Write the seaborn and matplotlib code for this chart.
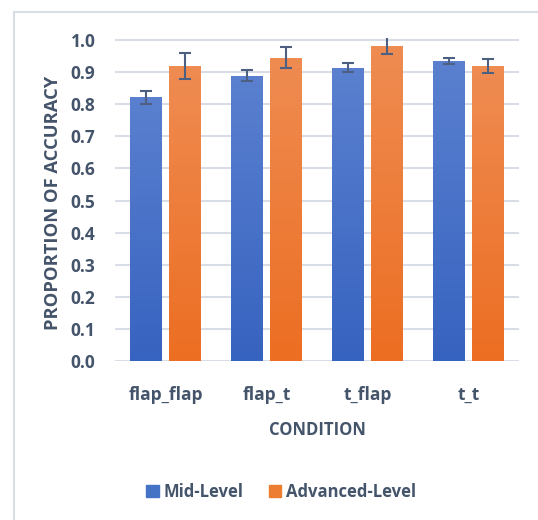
import numpy as np
import pandas as pd
import seaborn as sns
import matplotlib.pyplot as plt
from matplotlib.patches import Rectangle
from matplotlib.colors import LinearSegmentedColormap

conditions = ["flap_flap", "flap_t", "t_flap", "t_t"]
groups = ["Mid-Level", "Advanced-Level"]
mid_vals = [0.821, 0.889, 0.914, 0.934]
adv_vals = [0.919, 0.945, 0.982, 0.919]
mid_err = [0.020, 0.017, 0.014, 0.010]
adv_err = [0.042, 0.033, 0.025, 0.023]

df = pd.DataFrame({
    "condition": conditions * 2,
    "group": [groups[0]] * 4 + [groups[1]] * 4,
    "value": mid_vals + adv_vals,
    "err": mid_err + adv_err,
})

sns.set_style("white")
plt.rcParams["font.family"] = ["Open Sans", "DejaVu Sans"]
text_col = "#44546a"
grid_col = "#d9dee6"
base = {"Mid-Level": "#4472c4", "Advanced-Level": "#ed7d31"}
grads = {
    "Mid-Level": ("#3763c0", "#5a80cf"),
    "Advanced-Level": ("#ec6e22", "#ef8c52"),
}
ytop = 1.005

fig = plt.figure(figsize=(5.38, 5.20), dpi=100)
ax = fig.add_axes([115 / 538, 1 - 361 / 520, 404 / 538, (361 - 38.4) / 520])

sns.barplot(data=df, x="condition", y="value", hue="group", hue_order=groups,
            order=conditions, palette=base, width=0.78, gap=0.2,
            legend=False, ax=ax, zorder=2, linewidth=0)

ax.set_ylim(0, ytop)
ax.set_xlim(-0.5, 3.5)

# gradient fill + error bars
bars = sorted(ax.patches, key=lambda p: p.get_x())
for i, p in enumerate(bars):
    ci = i // 2
    g = groups[i % 2]
    cmap = LinearSegmentedColormap.from_list("g", grads[g])
    x0, w, h = p.get_x(), p.get_width(), p.get_height()
    grad = np.linspace(0, 1, 256).reshape(-1, 1)
    im = ax.imshow(grad, extent=[x0, x0 + w, 0, h], origin="lower", cmap=cmap,
                   aspect="auto", zorder=2.5)
    im.set_clip_path(p)
    row = df[(df.condition == conditions[ci]) & (df.group == g)].iloc[0]
    eb = ax.errorbar(x0 + w / 2, row.value, yerr=row.err, color="#4d6081",
                     elinewidth=1.5, capsize=4, capthick=1.5, zorder=4)
    # cap beyond the top of the axis is cut off, like the original
    if row.value + row.err > ytop:
        eb[1][1].set_visible(False)

ax.set_xlim(-0.5, 3.5)
ax.set_ylim(0, ytop)
ax.set_yticks(np.arange(0, 1.01, 0.1))
ax.set_yticklabels([f"{v:.1f}" for v in np.arange(0, 1.01, 0.1)])
ax.yaxis.grid(True, color=grid_col, linewidth=1.5, zorder=0)
ax.set_axisbelow(True)
for s in ax.spines.values():
    s.set_visible(False)
ax.tick_params(axis="y", length=0, labelsize=12.5, labelcolor=text_col, pad=14)
ax.tick_params(axis="x", length=0, labelsize=12.5, labelcolor=text_col, pad=18)
for t in ax.get_xticklabels() + ax.get_yticklabels():
    t.set_fontweight("bold")

ax.set_xlabel("CONDITION", fontsize=12, color=text_col, fontweight="bold",
              labelpad=12)
ax.set_ylabel("PROPORTION OF ACCURACY", fontsize=13.2, color=text_col,
              fontweight="bold")
ax.yaxis.set_label_coords(-0.132, 0.49)

handles = [Rectangle((0, 0), 1, 1, color=base[g]) for g in groups]
fig.legend(handles, groups, loc="center", bbox_to_anchor=(0.523, 1 - 492 / 520),
           ncol=2, frameon=False, handlelength=0.75, handleheight=0.75,
           handletextpad=0.3, columnspacing=1.5,
           prop={"size": 12, "weight": "bold"}, labelcolor=text_col)

fig.patches.append(Rectangle((14 / 538, -0.1), 1.2, 1 - 12 / 520 + 0.1,
                             transform=fig.transFigure, fill=False,
                             edgecolor=grid_col, linewidth=1.5))

fig.savefig("out.png", dpi=100)
